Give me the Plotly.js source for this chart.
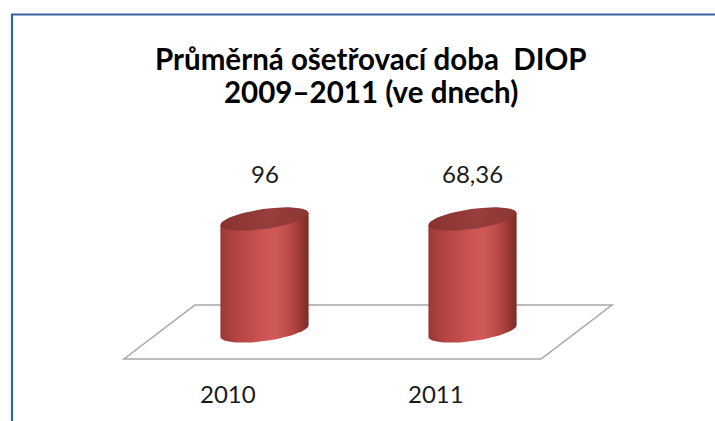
<!DOCTYPE html>
<html>
<head>
<meta charset="utf-8">
<script src="https://cdn.plot.ly/plotly-3.0.1.min.js"></script>
<style>html,body{margin:0;padding:0;background:#fff;}#chart{width:715px;height:421px;}</style>
</head>
<body>
<div id="chart"></div>
<script>
// ---- data ----
var categories = ["2010", "2011"];
var values = [96, 68.36];
var valueLabels = ["96", "68,36"];
var titleLines = ["Průměrná ošetřovací doba\u00a0 DIOP", "2009–2011 (ve dnech)"];
// Excel's vertical axis maximum (columns above it are cut flat at it)
var axisMax = 50;

// ---- geometry (pixel scale of the 3D projection) ----
var W = 715, H = 421;
var pxPerCat = 208, cat0Px = 264.5;
var basePx = 331, pxPerUnit = 112 / axisMax;
var xRange = [-cat0Px / pxPerCat, (W - cat0Px) / pxPerCat];
var yRange = [-(H - basePx) / pxPerUnit, basePx / pxPerUnit];

var a = 44.5, b = 10, phi = 8 * Math.PI / 180;
function ell(t) {
  return [a * Math.cos(t) * Math.cos(phi) - b * Math.sin(t) * Math.sin(phi),
          a * Math.cos(t) * Math.sin(phi) + b * Math.sin(t) * Math.cos(phi)];
}
var tR = Math.atan2(-b * Math.sin(phi), a * Math.cos(phi));
var tL = tR - Math.PI;

var bodyScale = [[0, '#9a3836'], [0.18, '#b34442'], [0.45, '#c95350'], [0.62, '#d05a57'], [0.82, '#b44644'], [1, '#7a2927']];
var capScale = [[0, '#883230'], [0.55, '#983e3c'], [1, '#8c3533']];

var traces = [];
categories.forEach(function (c, i) {
  var top = Math.min(values[i], axisMax);
  function toData(p, yBase) { return [i + p[0] / pxPerCat, yBase + p[1] / pxPerUnit]; }
  // body
  var bx = [], by = [];
  var pTL = toData(ell(tL), top), pTR = toData(ell(tR), top);
  bx.push(pTL[0], pTR[0]); by.push(pTL[1], pTR[1]);
  var n = 40;
  for (var k = 0; k <= n; k++) {
    var t = tR - Math.PI * k / n;
    var p = toData(ell(t), 0);
    bx.push(p[0]); by.push(p[1]);
  }
  bx.push(pTL[0]); by.push(pTL[1]);
  traces.push({
    type: 'scatter', mode: 'lines', x: bx, y: by, fill: 'toself',
    fillgradient: {type: 'horizontal', colorscale: bodyScale},
    line: {width: 0}, hoverinfo: 'skip', showlegend: false
  });
  // cap
  var cx = [], cy = [];
  for (var k2 = 0; k2 <= 60; k2++) {
    var p2 = toData(ell(2 * Math.PI * k2 / 60), top);
    cx.push(p2[0]); cy.push(p2[1]);
  }
  traces.push({
    type: 'scatter', mode: 'lines', x: cx, y: cy, fill: 'toself',
    fillgradient: {type: 'horizontal', colorscale: capScale},
    line: {width: 0}, hoverinfo: 'skip', showlegend: false
  });
});

function px(x) { return x / W; }
function py(y) { return 1 - y / H; }

var annotations = [];
var titleY = [58, 91];
titleLines.forEach(function (line, k) {
  annotations.push({
    xref: 'paper', yref: 'paper', x: px(371), y: py(titleY[k]), xanchor: 'center', yanchor: 'middle',
    text: '<b>' + line + '</b>', showarrow: false,
    font: {family: 'Lato, sans-serif', size: 29.5, color: '#000'}
  });
});
categories.forEach(function (c, i) {
  annotations.push({
    xref: 'x', yref: 'y', x: i, y: Math.min(values[i], axisMax), yshift: 46,
    xanchor: 'center', yanchor: 'middle', text: valueLabels[i], showarrow: false,
    font: {family: 'Lato, sans-serif', size: 24, color: '#1a1a1a'}
  });
  annotations.push({
    xref: 'x', yref: 'paper', x: i, xshift: -37, y: py(393),
    xanchor: 'center', yanchor: 'middle', text: c, showarrow: false,
    font: {family: 'Lato, sans-serif', size: 24, color: '#1a1a1a'}
  });
});

var floorPath = 'M ' + px(124) + ' ' + py(359) + ' L ' + px(541) + ' ' + py(359) +
  ' L ' + px(612) + ' ' + py(305) + ' L ' + px(195) + ' ' + py(305) + ' Z';

var layout = {
  width: W, height: H,
  margin: {l: 0, r: 0, t: 0, b: 0},
  paper_bgcolor: '#fff', plot_bgcolor: '#fff',
  xaxis: {range: xRange, visible: false, fixedrange: true},
  yaxis: {range: yRange, visible: false, fixedrange: true},
  showlegend: false,
  hovermode: false,
  annotations: annotations,
  shapes: [
    {type: 'path', xref: 'paper', yref: 'paper', path: floorPath, layer: 'below',
     line: {color: '#a6a6a6', width: 1.5}, fillcolor: '#ffffff'},
    {type: 'line', xref: 'paper', yref: 'paper', x0: px(11), x1: 1, y0: py(14.5), y1: py(14.5),
     line: {color: '#3d62a0', width: 2.2}},
    {type: 'line', xref: 'paper', yref: 'paper', x0: px(12), x1: px(12), y0: py(14), y1: 0,
     line: {color: '#3d62a0', width: 2.2}}
  ]
};

Plotly.newPlot('chart', traces, layout, {displayModeBar: false, staticPlot: true});
</script>
</body>
</html>
